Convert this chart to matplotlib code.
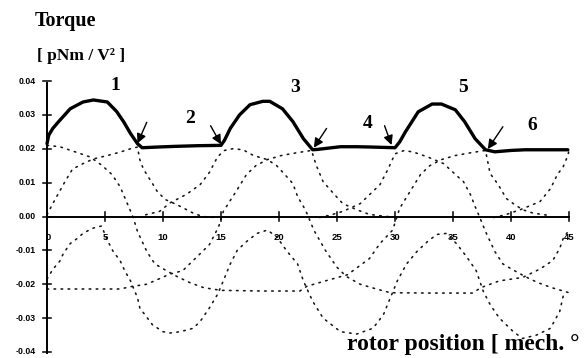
import matplotlib
matplotlib.use("Agg")
import matplotlib.pyplot as plt

# ---------------- data ----------------
# bold resulting torque (switched excitation)
bold_x = [0, 0.15, 0.5, 1.0, 2.0, 3.1, 4.0, 5.2, 6.0, 6.6, 7.2, 7.8, 8.2, 9.5, 11, 13, 15.0,
          15.3, 15.8, 16.6, 17.5, 18.6, 19.2, 20.3, 21.2, 22.1, 22.9, 23.3, 25.3, 26.7, 28, 30.0,
          30.4, 30.9, 32.0, 33.2, 34.0, 35.2, 36.0, 36.9, 37.8, 38.6, 40, 41.2, 43, 44.9]
bold_y = [0.0215, 0.024, 0.026, 0.028, 0.0318, 0.0338, 0.0344, 0.0338, 0.031, 0.028, 0.0245,
          0.0215, 0.0203, 0.0205, 0.0207, 0.0209, 0.021,
          0.0225, 0.026, 0.030, 0.033, 0.0340, 0.0340, 0.0318, 0.028, 0.023, 0.0197, 0.0198,
          0.0206, 0.0206, 0.0205, 0.0203,
          0.022, 0.025, 0.0309, 0.0332, 0.0332, 0.0315, 0.028, 0.023, 0.0197, 0.0191, 0.0195,
          0.0197, 0.0197, 0.0197]

# dotted single torque curves
curve_b_x = [0, 1.1, 2.5, 3.7, 4.7, 5.6, 6.3, 6.9, 7.4, 7.8, 8.6, 9.3, 10.3, 11.2, 12.3, 13.5,
             15, 18.5, 21.8, 22.4, 24, 25.9, 27.8, 28.7, 29.8, 30.4, 31.3, 32.2, 33, 34, 35.2,
             36.5, 37.8, 38.2, 38.9, 39.6, 40.2, 41, 41.9, 43.5]
curve_b_y = [0.021, 0.0206, 0.019, 0.0176, 0.0152, 0.0124, 0.0088, 0.004, 0.0, -0.0044, -0.0103,
             -0.014, -0.016, -0.0177, -0.0195, -0.021, -0.0218, -0.022, -0.022, -0.0206, -0.019,
             -0.0172, -0.0124, -0.008, -0.004, 0.0024, 0.0074, 0.0124, 0.015, 0.0168, 0.018,
             0.0188, 0.0195, 0.0127, 0.0094, 0.0053, 0.0038, 0.002, 0.001, 0.0002]

curve_c7_x = [0, 0.5, 1.55, 2.2, 3.1, 4.0, 5.2, 6.3, 7.2, 7.8, 8.0, 8.3, 8.6, 9.1, 9.5, 10.2,
              11.2, 12.6, 13.4, 14.5]
curve_c7_y = [0.0005, 0.0038, 0.0103, 0.014, 0.0156, 0.017, 0.018, 0.019, 0.020, 0.0205, 0.0168,
              0.0141, 0.0124, 0.0097, 0.0074, 0.005, 0.0035, 0.001, 0.0, -0.0003]

curve_c22_x = [0, 3, 6.3, 7.4, 8.6, 10.6, 11.7, 13.2, 14.0, 14.8, 15.2, 16.3, 17.2, 18.0, 19.0,
               20.2, 21.5, 22.8, 23.2, 23.8, 24.7, 25.5, 26.7, 27.8, 29.3, 30.5]
curve_c22_y = [-0.0214, -0.0214, -0.0214, -0.0206, -0.020, -0.017, -0.016, -0.011, -0.0083,
               -0.003, 0.0015, 0.0074, 0.0124, 0.015, 0.0168, 0.018, 0.0188, 0.0195, 0.0152,
               0.0103, 0.0068, 0.0038, 0.002, 0.0006, 0.0, -0.0002]

curve_d15_x = [8.5, 9.7, 10.6, 12.0, 13.2, 14.0, 14.7, 15.3, 16.0, 16.9, 17.8, 19.0, 19.8, 20.5,
               21.2, 21.6, 22.1, 22.4, 23.0, 24.0, 25.0, 25.8, 27.0, 28.5, 29.6, 33.0, 36.7,
               37.4, 39.0, 41.0, 42.5, 43.6, 44.2, 44.5, 45]
curve_d15_y = [0.0005, 0.0015, 0.004, 0.0065, 0.0094, 0.013, 0.0176, 0.0195, 0.020, 0.0197,
               0.018, 0.0168, 0.015, 0.0124, 0.0097, 0.0059, 0.003, 0.001, -0.004, -0.010,
               -0.015, -0.0177, -0.020, -0.0215, -0.0225, -0.0226, -0.0226, -0.021, -0.019,
               -0.018, -0.0155, -0.013, -0.0094, -0.0065, -0.004]

curve_d30_x = [23.5, 24.5, 25.5, 27.0, 28.7, 29.4, 30.0, 30.8, 31.6, 32.8, 34.2, 34.7, 35.4,
               35.9, 36.5, 36.9, 37.2, 37.8, 38.6, 39.3, 40.3, 41.2, 42.3, 43.5, 45]
curve_d30_y = [-0.0003, 0.0005, 0.0015, 0.0038, 0.0094, 0.014, 0.0185, 0.0195, 0.019, 0.0176,
               0.0156, 0.014, 0.0118, 0.0103, 0.0065, 0.003, 0.0006, -0.0044, -0.0103, -0.014,
               -0.016, -0.0177, -0.0195, -0.021, -0.0225]

curve_d45_x = [38.5, 39.5, 40.8, 42.5, 43.4, 44.0, 44.5, 44.9, 45.0]
curve_d45_y = [-0.0003, 0.0005, 0.002, 0.0044, 0.0082, 0.0124, 0.0147, 0.018, 0.0195]

wave_x = [0, 0.5, 1.1, 1.4, 2.0, 2.6, 3.1, 3.9, 4.7, 5.2, 5.7, 6.3, 6.7, 7.2, 7.8, 8.0, 9.1,
          10.0, 10.6, 11.5, 12.6, 13.2, 14.0, 14.7, 15.2, 15.8, 16.4, 17.2, 18.1, 19.0, 19.8,
          20.7, 21.6, 22.1, 22.9, 23.8, 25.3, 26.7, 28.1, 29.0, 29.6, 30.2, 31.0, 31.9, 32.8,
          33.6, 34.4, 35.3, 36.2, 37.0, 37.6, 38.2, 39.0, 40.2, 41.0, 42.2, 43.4, 44.2, 44.5]
wave_y = [-0.0185, -0.0156, -0.0132, -0.011, -0.008, -0.0065, -0.005, -0.0035, -0.0028,
          -0.0070, -0.0103, -0.013, -0.016, -0.019, -0.024, -0.027, -0.032, -0.034, -0.0344,
          -0.034, -0.033, -0.031, -0.027, -0.023, -0.019, -0.014, -0.010, -0.0074, -0.005,
          -0.004, -0.006, -0.0103, -0.014, -0.019, -0.025, -0.030, -0.034, -0.0347, -0.033,
          -0.029, -0.024, -0.019, -0.014, -0.0103, -0.0074, -0.0053, -0.005, -0.008, -0.012,
          -0.016, -0.022, -0.026, -0.030, -0.034, -0.036, -0.035, -0.033, -0.028, -0.0235]

x_ticks = [0, 5, 10, 15, 20, 25, 30, 35, 40, 45]
x_tick_labels = ["0", "5", "10", "15", "20", "25", "30", "35", "40", "45"]
y_ticks = [0.04, 0.03, 0.02, 0.01, 0.0, -0.01, -0.02, -0.03, -0.04]
y_tick_labels = ["0.04", "0.03", "0.02", "0.01", "0.00", "-0.01", "-0.02", "-0.03", "-0.04"]
step_labels = ["1", "2", "3", "4", "5", "6"]

# ---------------- drawing ----------------
fig = plt.figure(figsize=(5.85, 3.58), dpi=100)
ax = fig.add_axes([0, 0, 1, 1])
ax.set_xlim(-47 / 11.6, (585 - 47) / 11.6)
ax.set_ylim((216.5 - 358) / 3387.5, 216.5 / 3387.5)
ax.axis("off")

dot = dict(color="#151515", lw=1.15, linestyle=(0, (1, 3.4)), dash_capstyle="round")
for cx, cy in [(curve_b_x, curve_b_y), (curve_c7_x, curve_c7_y), (curve_c22_x, curve_c22_y),
               (curve_d15_x, curve_d15_y), (curve_d30_x, curve_d30_y),
               (curve_d45_x, curve_d45_y), (wave_x, wave_y)]:
    ax.plot(cx, cy, **dot)

# axes lines
ax.plot([0, 0], [-0.0403, 0.0395], color="black", lw=1.4)
ax.plot([0, 45], [0, 0], color="black", lw=1.4)
for t in y_ticks:
    ax.plot([-0.35, 0.35], [t, t], color="black", lw=1.1)
for t in x_ticks[1:]:
    ax.plot([t, t], [-0.0012, 0.0012], color="black", lw=1.1)

# bold curve
ax.plot(bold_x, bold_y, color="black", lw=2.4, solid_joinstyle="round", solid_capstyle="round")

# tick labels
for t, lab in zip(y_ticks, y_tick_labels):
    ax.text(-1.0, t, lab, ha="right", va="center", fontsize=6.3, family="Liberation Sans",
            fontweight="bold")
for t, lab in zip(x_ticks, x_tick_labels):
    ax.text(t + (0.1 if t == 0 else 0), -0.0062, lab, ha="center", va="center", fontsize=6.8,
            family="Liberation Sans", fontweight="bold")

# titles
serif = dict(family="Liberation Serif", fontweight="bold", color="black")
ax.text(1.55, 0.0577, "Torque", ha="center", va="center", fontsize=14.5, **serif)
ax.text(2.95, 0.0475, "[ pNm / V² ]", ha="center", va="center", fontsize=12.5, **serif)
ax.text(25.85, -0.0378, "rotor position [ mech. °", ha="left", va="center", fontsize=17,
        **serif)

# step numbers
step_pos = [(5.9, 0.0388), (12.3, 0.0288), (21.4, 0.0382), (27.6, 0.0274), (35.9, 0.0382),
            (41.8, 0.0270)]
for lab, (px, py) in zip(step_labels, step_pos):
    ax.text(px, py, lab, ha="center", va="center", fontsize=14, **serif)

# switching arrows
arrows = [((8.6, 0.0278), (7.8, 0.0216)), ((14.1, 0.0268), (15.0, 0.0213)),
          ((24.1, 0.0260), (23.0, 0.0203)), ((29.1, 0.0268), (29.7, 0.0211)),
          ((39.3, 0.0265), (38.0, 0.0199))]
for tail, head in arrows:
    ax.annotate("", xy=head, xytext=tail,
                arrowprops=dict(arrowstyle="-|>", color="black", lw=1.0, mutation_scale=14,
                                shrinkA=0, shrinkB=0))

fig.savefig("out.png", dpi=100)
